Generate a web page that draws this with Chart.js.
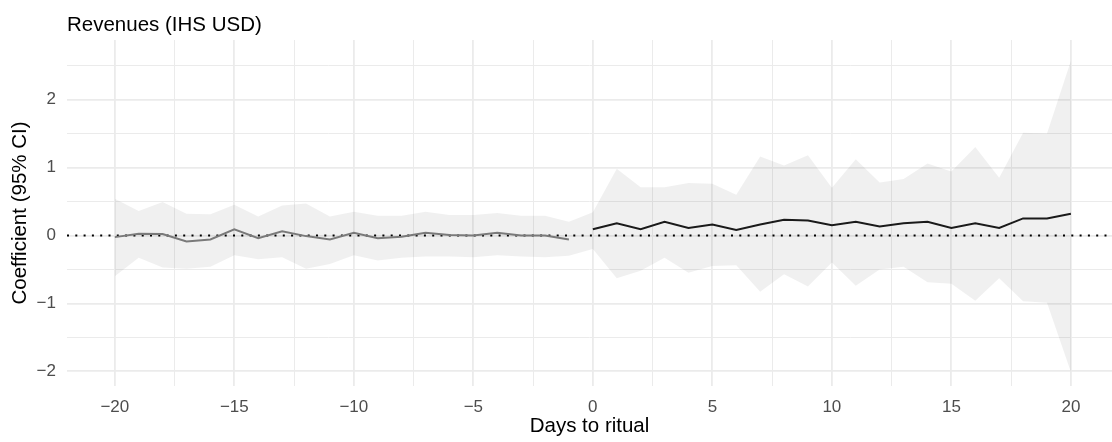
<!DOCTYPE html>
<html><head><meta charset="utf-8">
<script src="https://cdn.jsdelivr.net/npm/chart.js@4.4.0/dist/chart.umd.min.js"></script>
<style>html,body{margin:0;padding:0;background:#fff;}#wrap{width:1112px;height:442px;}</style>
</head><body><div id="wrap"><canvas id="c" width="1112" height="442"></canvas></div>
<script>
// ---- data ----
const plotTitle = 'Revenues (IHS USD)';
const xTitle = 'Days to ritual';
const yTitle = 'Coefficient (95% CI)';

const allDays = [-20,-19,-18,-17,-16,-15,-14,-13,-12,-11,-10,-9,-8,-7,-6,-5,-4,-3,-2,-1,0,1,2,3,4,5,6,7,8,9,10,11,12,13,14,15,16,17,18,19,20];
const preDays = [-20,-19,-18,-17,-16,-15,-14,-13,-12,-11,-10,-9,-8,-7,-6,-5,-4,-3,-2,-1];
const postDays = [0,1,2,3,4,5,6,7,8,9,10,11,12,13,14,15,16,17,18,19,20];

const preEstimate = [-0.025,0.025,0.02,-0.09,-0.06,0.09,-0.04,0.06,-0.01,-0.06,0.04,-0.04,-0.02,0.04,0.005,0.0,0.04,0.0,0.0,-0.06];
const postEstimate = [0.09,0.18,0.09,0.20,0.11,0.16,0.08,0.16,0.23,0.22,0.15,0.20,0.13,0.18,0.20,0.11,0.18,0.11,0.25,0.25,0.32];

const ciUpper = [0.54,0.36,0.49,0.32,0.31,0.45,0.28,0.44,0.47,0.28,0.35,0.29,0.29,0.35,0.30,0.30,0.33,0.29,0.29,0.20,
                 0.34,0.98,0.71,0.71,0.77,0.76,0.60,1.16,1.03,1.18,0.70,1.12,0.78,0.83,1.06,0.94,1.30,0.85,1.51,1.50,2.57];
const ciLower = [-0.60,-0.33,-0.47,-0.49,-0.46,-0.29,-0.35,-0.32,-0.49,-0.42,-0.29,-0.37,-0.33,-0.31,-0.31,-0.32,-0.29,-0.31,-0.32,-0.30,
                 -0.20,-0.63,-0.52,-0.33,-0.55,-0.45,-0.44,-0.83,-0.57,-0.75,-0.40,-0.74,-0.50,-0.46,-0.69,-0.71,-0.96,-0.63,-0.97,-0.99,-2.01];

const xMajorTicks = [-20,-15,-10,-5,0,5,10,15,20];
const xMinorTicks = [-17.5,-12.5,-7.5,-2.5,2.5,7.5,12.5,17.5];
const yMajorTicks = [-2,-1,0,1,2];
const yMinorTicks = [-1.5,-0.5,0.5,1.5,2.5];
const xRange = [-22, 21.72];
const yRange = [-2.215, 2.875];

// ---- helpers ----
const FAMILY = '"Liberation Sans", Arial, Helvetica, sans-serif';
const fmt = v => (v < 0 ? '\u2212' + Math.abs(v) : String(v));
const pts = (xs, ys) => xs.map((x, i) => ({x, y: ys[i]}));
const gridW = (majors) => ctx => (ctx.tick && majors.includes(ctx.tick.value)) ? 1.8 : 1;

const titlePlugin = {
  id: 'plotTitle',
  afterDraw(chart) {
    const ctx = chart.ctx;
    ctx.save();
    ctx.font = '20.5px ' + FAMILY;
    ctx.fillStyle = '#000';
    ctx.textAlign = 'left';
    ctx.textBaseline = 'alphabetic';
    ctx.fillText(plotTitle, chart.chartArea.left, 31);
    ctx.restore();
  }
};

new Chart(document.getElementById('c'), {
  type: 'line',
  data: {
    datasets: [
      { label: 'upper', data: pts(allDays, ciUpper), borderWidth: 0, pointRadius: 0,
        fill: '+1', backgroundColor: 'rgba(0,0,0,0.06)', order: 4 },
      { label: 'lower', data: pts(allDays, ciLower), borderWidth: 0, pointRadius: 0,
        fill: false, order: 5 },
      { label: 'zero', data: [{x: xRange[0], y: 0}, {x: xRange[1], y: 0}], borderColor: '#000',
        borderWidth: 2, borderDash: [2, 6.3], borderCapStyle: 'butt', pointRadius: 0, fill: false, order: 3 },
      { label: 'pre', data: pts(preDays, preEstimate), borderColor: '#7a7a7a', borderWidth: 2,
        pointRadius: 0, fill: false, tension: 0, order: 2 },
      { label: 'post', data: pts(postDays, postEstimate), borderColor: '#1a1a1a', borderWidth: 2,
        pointRadius: 0, fill: false, tension: 0, order: 1 }
    ]
  },
  options: {
    responsive: false,
    devicePixelRatio: 1,
    animation: false,
    events: [],
    layout: { padding: { top: 40, left: 0, right: 0, bottom: 0 } },
    plugins: { legend: { display: false }, tooltip: { enabled: false }, title: { display: false } },
    scales: {
      x: {
        type: 'linear', min: xRange[0], max: xRange[1],
        afterBuildTicks: s => { s.ticks = xMajorTicks.concat(xMinorTicks).sort((a,b)=>a-b).map(v => ({value: v})); },
        afterFit: s => { s.height = 56; },
        border: { display: false },
        grid: { color: '#EBEBEB', lineWidth: gridW(xMajorTicks), drawTicks: false },
        ticks: { autoSkip: false, maxRotation: 0, padding: 11, color: '#4D4D4D',
                 font: { size: 17, family: FAMILY },
                 callback: v => xMajorTicks.includes(v) ? fmt(v) : '' },
        title: { display: true, text: xTitle, color: '#000', font: { size: 20.5, family: FAMILY },
                 padding: { top: 0, bottom: 3 } }
      },
      y: {
        type: 'linear', min: yRange[0], max: yRange[1],
        afterBuildTicks: s => { s.ticks = yMajorTicks.concat(yMinorTicks).sort((a,b)=>a-b).map(v => ({value: v})); },
        afterFit: s => { s.width = 67; },
        border: { display: false },
        grid: { color: '#EBEBEB', lineWidth: gridW(yMajorTicks), drawTicks: false },
        ticks: { autoSkip: false, padding: 11, color: '#4D4D4D',
                 font: { size: 17, family: FAMILY },
                 callback: v => yMajorTicks.includes(v) ? fmt(v) : '' },
        title: { display: true, text: yTitle, color: '#000', font: { size: 20.5, family: FAMILY },
                 padding: { top: 8, bottom: 0 } }
      }
    }
  },
  plugins: [titlePlugin]
});
</script></body></html>
